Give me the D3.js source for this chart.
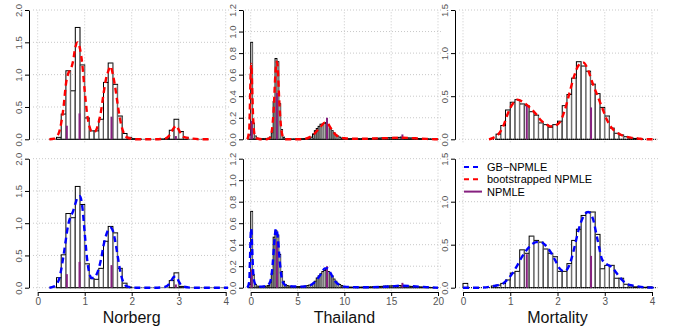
<!DOCTYPE html>
<html>
<head>
<meta charset="utf-8">
<script src="https://cdn.jsdelivr.net/npm/d3@7"></script>
<style>
  body { margin: 0; background: #fff; }
  svg { font-family: "Liberation Sans", Arial, sans-serif; }
</style>
</head>
<body>
<svg id="chart" width="675" height="328"></svg>
<script>
// ---- data ----

// Norberg: histogram bins of width 0.1 starting at 0.4
const norbergBinStart = 0.4;
const norbergBinWidth = 0.1;
const norbergBootHist = [0.03, 0.39, 1.06, 0.75, 1.73, 1.15, 0.33, 0.13, 0.13, 0.31, 0.88, 1.18, 0.85, 0.36,
  0.09, 0.03, 0.01, 0.005, 0, 0, 0, 0, 0.005, 0.01, 0.14, 0.31, 0.12, 0.03];
const norbergGBHist = [0.155, 0.51, 1.15, 1.085, 1.57, 1.29, 0.37, 0.14, 0.13, 0.30, 0.72, 0.95, 0.85, 0.30,
  0.07, 0.01, 0, 0, 0, 0, 0, 0, 0, 0, 0.11, 0.23, 0.02, 0];
const norbergCurveX = [0.25, 0.35, 0.45, 0.5, 0.55, 0.6, 0.65, 0.7, 0.75, 0.8, 0.85, 0.9, 0.95, 1.0, 1.05, 1.1,
  1.15, 1.2, 1.25, 1.3, 1.35, 1.4, 1.45, 1.5, 1.55, 1.6, 1.65, 1.7, 1.75, 1.8, 1.85, 1.9, 2.0, 2.1, 2.3, 2.5,
  2.7, 2.8, 2.85, 2.9, 2.95, 3.0, 3.05, 3.1, 3.2, 3.3, 3.5, 3.65, 4.05];
const norbergBootCurve = [0, 0.01, 0.1, 0.25, 0.5, 0.85, 1.02, 1.08, 1.2, 1.42, 1.5, 1.4, 1.15, 0.75, 0.4, 0.2,
  0.12, 0.11, 0.15, 0.27, 0.45, 0.7, 0.92, 1.05, 1.13, 1.0, 0.8, 0.55, 0.32, 0.16, 0.07, 0.03, 0.01, 0, 0, 0,
  0.01, 0.06, 0.12, 0.18, 0.21, 0.15, 0.08, 0.04, 0.02, 0.01, 0, 0, null];
const norbergGBCurve = [0, 0.02, 0.12, 0.28, 0.5, 0.75, 0.98, 1.1, 1.18, 1.3, 1.4, 1.42, 1.25, 0.85, 0.45, 0.22,
  0.15, 0.15, 0.2, 0.3, 0.45, 0.65, 0.8, 0.9, 0.93, 0.88, 0.72, 0.5, 0.28, 0.13, 0.05, 0.02, 0.005, 0, 0, 0,
  0.01, 0.06, 0.12, 0.17, 0.17, 0.1, 0.04, 0.02, 0.005, 0, 0, 0, 0];
const norbergAtomX = [0.62, 0.89, 1.57, 2.94];
const norbergAtomH = [0.21, 0.40, 0.35, 0.05];

// Thailand: histogram bins of width 0.2 starting at -0.2
const thaiBinStart = -0.2;
const thaiBinWidth = 0.2;
const thaiBootHist = [
  0.04, 0.90, 0.15, 0.03, 0.01, 0.005, 0.005, 0.005, 0.005, 0.008,
  0.01, 0.02, 0.06, 0.35, 0.75, 0.72, 0.33, 0.09, 0.02, 0.005,
  0.003, 0.003, 0.002, 0.002, 0.003, 0.003, 0.004, 0.004, 0.005, 0.006,
  0.008, 0.01, 0.012, 0.02, 0.05, 0.08, 0.10, 0.12, 0.14, 0.14,
  0.15, 0.155, 0.13, 0.10, 0.08, 0.06, 0.04, 0.03, 0.02, 0.012,
  0.01, 0.008, 0.006, 0.005, 0.006, 0.005, 0.004, 0.005, 0.006, 0.005,
  0.006, 0.006, 0.007, 0.006, 0.008, 0.007, 0.008, 0.009, 0.01, 0.01,
  0.012, 0.012, 0.013, 0.014, 0.015, 0.014, 0.016, 0.018, 0.017, 0.016,
  0.018, 0.02, 0.017, 0.015, 0.014, 0.012, 0.012, 0.01, 0.009, 0.008,
  0.007, 0.006, 0.005, 0.004, 0.004, 0.003, 0.003, 0.002, 0.002, 0.001, 0.001];
const thaiGBHist = [
  0.03, 0.71, 0.12, 0.03, 0.015, 0.01, 0.01, 0.012, 0.012, 0.015,
  0.02, 0.05, 0.13, 0.47, 0.53, 0.49, 0.31, 0.15, 0.06, 0.03,
  0.02, 0.015, 0.012, 0.01, 0.01, 0.01, 0.01, 0.01, 0.012, 0.012,
  0.015, 0.02, 0.025, 0.03, 0.04, 0.06, 0.09, 0.11, 0.13, 0.15,
  0.16, 0.17, 0.15, 0.13, 0.11, 0.08, 0.06, 0.04, 0.03, 0.02,
  0.012, 0.008, 0.006, 0.005, 0.005, 0.004, 0.004, 0.005, 0.004, 0.005,
  0.005, 0.006, 0.006, 0.007, 0.007, 0.008, 0.008, 0.009, 0.01, 0.011,
  0.012, 0.012, 0.014, 0.014, 0.015, 0.016, 0.017, 0.018, 0.018, 0.02,
  0.02, 0.019, 0.018, 0.016, 0.015, 0.014, 0.012, 0.011, 0.01, 0.009,
  0.008, 0.007, 0.006, 0.005, 0.004, 0.004, 0.003, 0.002, 0.002, 0.001, 0.001];
const thaiCurveX = [-0.35, -0.15, -0.05, 0, 0.05, 0.1, 0.15, 0.25, 0.35, 0.5, 0.8, 1.2, 1.6, 2.0, 2.2, 2.35,
  2.5, 2.6, 2.7, 2.8, 2.9, 3.0, 3.1, 3.2, 3.35, 3.5, 3.8, 4.5, 5.5, 6.3, 6.8, 7.2, 7.6, 7.9, 8.2, 8.5, 8.8,
  9.1, 9.5, 10, 11, 12, 13, 14, 15, 16, 17, 18, 19, 20];
const thaiBootCurve = [0, 0.1, 0.45, 0.62, 0.7, 0.65, 0.5, 0.22, 0.08, 0.02, 0.005, 0, 0, 0.01, 0.05, 0.15,
  0.35, 0.55, 0.68, 0.72, 0.65, 0.45, 0.28, 0.15, 0.05, 0.015, 0, 0, 0, 0.02, 0.05, 0.09, 0.13, 0.155, 0.15,
  0.11, 0.07, 0.04, 0.02, 0.01, 0.005, 0.005, 0.007, 0.01, 0.012, 0.015, 0.012, 0.007, 0.003, 0];
const thaiGBCurve = [0, 0.06, 0.35, 0.5, 0.55, 0.5, 0.38, 0.17, 0.07, 0.03, 0.015, 0.01, 0.015, 0.04, 0.1, 0.22,
  0.4, 0.5, 0.55, 0.53, 0.46, 0.36, 0.25, 0.16, 0.08, 0.04, 0.02, 0.012, 0.01, 0.02, 0.05, 0.09, 0.14, 0.18, 0.18,
  0.14, 0.09, 0.05, 0.025, 0.01, 0.005, 0.004, 0.005, 0.008, 0.012, 0.018, 0.015, 0.01, 0.004, 0];
const thaiAtomX = [0.1, 2.8, 8.15, 16.2];
const thaiAtomH = [0.17, 0.43, 0.20, 0.045];

// Mortality: histogram bins of width 0.1
const mortBootBinStart = 0.7;
const mortGBBinStart = 0.0;
const mortBinWidth = 0.1;
const mortBootHist = [0.06, 0.16, 0.34, 0.43, 0.46, 0.41, 0.39, 0.32, 0.28, 0.19, 0.17, 0.14, 0.17, 0.21, 0.39,
  0.52, 0.71, 0.90, 0.85, 0.79, 0.64, 0.53, 0.37, 0.27, 0.13, 0.07, 0.05, 0.03, 0.015, 0.01, 0.005];
const mortGBHist = [0.05, 0, 0, 0, 0, 0, 0.02, 0.03, 0.05, 0.09, 0.17, 0.19, 0.44, 0.40, 0.60, 0.55, 0.53, 0.45,
  0.40, 0.36, 0.19, 0.19, 0.28, 0.55, 0.68, 0.84, 0.88, 0.88, 0.62, 0.22, 0.26, 0.26, 0.11, 0.11, 0.04, 0.02,
  0.01, 0.01, 0.005, 0.01];
const mortCurveX = [0, 0.3, 0.55, 0.65, 0.75, 0.85, 0.95, 1.05, 1.15, 1.25, 1.35, 1.45, 1.55, 1.65, 1.75, 1.85,
  1.95, 2.05, 2.15, 2.25, 2.35, 2.45, 2.55, 2.65, 2.75, 2.85, 2.95, 3.05, 3.15, 3.25, 3.35, 3.45, 3.55, 3.7,
  3.85, 4.1];
const mortBootCurve = [null, null, 0, 0.02, 0.06, 0.15, 0.3, 0.41, 0.46, 0.44, 0.4, 0.35, 0.29, 0.22, 0.18, 0.15,
  0.16, 0.2, 0.33, 0.53, 0.73, 0.86, 0.89, 0.8, 0.64, 0.5, 0.36, 0.22, 0.13, 0.08, 0.05, 0.03, 0.02, 0.01,
  0, 0];
const mortGBCurve = [0, 0, 0.01, 0.02, 0.03, 0.05, 0.1, 0.17, 0.26, 0.36, 0.44, 0.5, 0.53, 0.53, 0.49, 0.42,
  0.32, 0.22, 0.19, 0.26, 0.45, 0.68, 0.83, 0.88, 0.8, 0.55, 0.32, 0.27, 0.24, 0.17, 0.1, 0.05, 0.03, 0.015,
  0.005, 0];
const mortAtomX = [1.35, 2.71];
const mortAtomH = [0.39, 0.37];

const datasets = ["Norberg", "Thailand", "Mortality"];
const xTicks = [[0, 1, 2, 3, 4], [0, 5, 10, 15, 20], [0, 1, 2, 3, 4]];
const yTicks = [[0, 0.5, 1.0, 1.5, 2.0], [0, 0.2, 0.4, 0.6, 0.8, 1.0, 1.2], [0, 0.5, 1.0, 1.5]];
const legendLabels = ["GB\u2212NPMLE", "bootstrapped NPMLE", "NPMLE"];

// ---- layout ----
const svg = d3.select("#chart");
const cols = [
  { axisX: 29, range: [37.7, 225.7], plot: [33, 229] },
  { axisX: 243, range: [250.7, 438], plot: [245, 441] },
  { axisX: 455, range: [463, 652], plot: [459, 659] }
];
const rows = [
  { range: [139.3, 10], color: "#ff0000" },
  { range: [287.7, 158.7], color: "#0000ff" }
];
const purple = "#86207f";

const panels = [
  { col: 0, row: 0, start: norbergBinStart, w: norbergBinWidth, hist: norbergBootHist, cx: norbergCurveX, cy: norbergBootCurve, ax: norbergAtomX, ah: norbergAtomH },
  { col: 1, row: 0, start: thaiBinStart, w: thaiBinWidth, hist: thaiBootHist, cx: thaiCurveX, cy: thaiBootCurve, ax: thaiAtomX, ah: thaiAtomH },
  { col: 2, row: 0, start: mortBootBinStart, w: mortBinWidth, hist: mortBootHist, cx: mortCurveX, cy: mortBootCurve, ax: mortAtomX, ah: mortAtomH },
  { col: 0, row: 1, start: norbergBinStart, w: norbergBinWidth, hist: norbergGBHist, cx: norbergCurveX, cy: norbergGBCurve, ax: norbergAtomX, ah: norbergAtomH },
  { col: 1, row: 1, start: thaiBinStart, w: thaiBinWidth, hist: thaiGBHist, cx: thaiCurveX, cy: thaiGBCurve, ax: thaiAtomX, ah: thaiAtomH },
  { col: 2, row: 1, start: mortGBBinStart, w: mortBinWidth, hist: mortGBHist, cx: mortCurveX, cy: mortGBCurve, ax: mortAtomX, ah: mortAtomH }
];

panels.forEach(p => drawPanel(p));

function drawPanel(p) {
  const c = cols[p.col], r = rows[p.row];
  const xt = xTicks[p.col], yt = yTicks[p.col];
  const x = d3.scaleLinear().domain([xt[0], xt[xt.length - 1]]).range(c.range);
  const y = d3.scaleLinear().domain([0, yt[yt.length - 1]]).range(r.range);
  const g = svg.append("g");

  // dotted grid
  const grid = g.append("g").attr("stroke", "#c8c8c8").attr("stroke-width", 1).attr("stroke-dasharray", "1,2");
  grid.selectAll(".gx").data(xt).enter().append("line")
    .attr("x1", d => x(d)).attr("x2", d => x(d))
    .attr("y1", r.range[0] + 3).attr("y2", r.range[1]);
  grid.selectAll(".gy").data(yt).enter().append("line")
    .attr("x1", c.plot[0]).attr("x2", c.plot[1])
    .attr("y1", d => y(d)).attr("y2", d => y(d));

  // histogram bars
  const bins = p.hist.map((h, i) => ({ x0: p.start + i * p.w, x1: p.start + (i + 1) * p.w, h: h }));
  const bars = g.append("g");
  bars.selectAll("rect").data(bins.filter(b => b.h > 0)).enter().append("rect")
    .attr("x", b => x(b.x0)).attr("width", b => x(b.x1) - x(b.x0))
    .attr("y", b => y(b.h)).attr("height", b => y(0) - y(b.h))
    .attr("fill", "#fff").attr("stroke", "#000").attr("stroke-width", 1);
  bars.selectAll("line").data(bins.filter(b => b.h > 0)).enter().append("line")
    .attr("x1", b => x(b.x1) - 0.3).attr("x2", b => x(b.x1) - 0.3)
    .attr("y1", b => y(b.h) + 0.5).attr("y2", y(0))
    .attr("stroke", "#7a7a7a").attr("stroke-width", 1.1);

  // dotted baseline
  const cxDef = p.cx.filter((v, i) => p.cy[i] !== null);
  g.append("line")
    .attr("x1", x(d3.min(cxDef))).attr("x2", x(d3.max(cxDef)))
    .attr("y1", y(0)).attr("y2", y(0))
    .attr("stroke", "#000").attr("stroke-width", 1).attr("stroke-dasharray", "1,1");

  // NPMLE atoms
  g.selectAll(".atom").data(p.ax).enter().append("line")
    .attr("x1", d => x(d)).attr("x2", d => x(d))
    .attr("y1", y(0)).attr("y2", (d, i) => y(p.ah[i]))
    .attr("stroke", purple).attr("stroke-width", 2);

  // smoothed density curve
  const pts = p.cx.map((v, i) => [v, p.cy[i]]).filter(d => d[1] !== null);
  const line = d3.line().x(d => x(d[0])).y(d => y(d[1])).curve(d3.curveMonotoneX);
  g.append("path").datum(pts).attr("d", line)
    .attr("fill", "none").attr("stroke", r.color).attr("stroke-width", 2.4)
    .attr("stroke-dasharray", "6,4");

  // y axis
  const ya = g.append("g").attr("transform", `translate(${c.axisX},0)`)
    .call(d3.axisLeft(y).tickValues(yt).tickSize(4).tickSizeOuter(0).tickFormat(d3.format(".1f")));
  ya.select(".domain").attr("stroke", "#000");
  ya.selectAll(".tick line").attr("stroke", "#000");
  ya.selectAll(".tick text")
    .attr("x", 0).attr("dy", 0).attr("text-anchor", "middle")
    .attr("transform", "translate(-7,0) rotate(-90)")
    .attr("fill", "#555").attr("font-size", 9.5).attr("font-family", "Liberation Sans, Arial, sans-serif");

  // x axis only on bottom row
  if (p.row === 1) {
    const xa = g.append("g").attr("transform", "translate(0,292)")
      .call(d3.axisBottom(x).tickValues(xt).tickSize(4).tickSizeOuter(0).tickFormat(d3.format("d")));
    xa.select(".domain").attr("stroke", "#000").attr("stroke-width", 1.2);
    xa.selectAll(".tick line").attr("stroke", "#000");
    xa.selectAll(".tick text").attr("y", 6).attr("fill", "#555").attr("font-size", 10)
      .attr("font-family", "Liberation Sans, Arial, sans-serif");
    g.append("text").attr("x", x((xt[0] + xt[xt.length - 1]) / 2)).attr("y", 323)
      .attr("text-anchor", "middle").attr("font-size", 16).attr("fill", "#111")
      .text(datasets[p.col]);
  }
}

// legend (bottom right panel)
const legendColors = ["#0000ff", "#ff0000", purple];
const leg = svg.append("g").attr("transform", "translate(464,167)");
legendLabels.forEach((lab, i) => {
  const ly = i * 12.3;
  leg.append("line").attr("x1", 0).attr("x2", 18).attr("y1", ly).attr("y2", ly)
    .attr("stroke", legendColors[i]).attr("stroke-width", 2)
    .attr("stroke-dasharray", i < 2 ? "5,4" : null);
  leg.append("text").attr("x", 23).attr("y", ly + 4).attr("font-size", 11).attr("fill", "#000").text(lab);
});
</script>
</body>
</html>
